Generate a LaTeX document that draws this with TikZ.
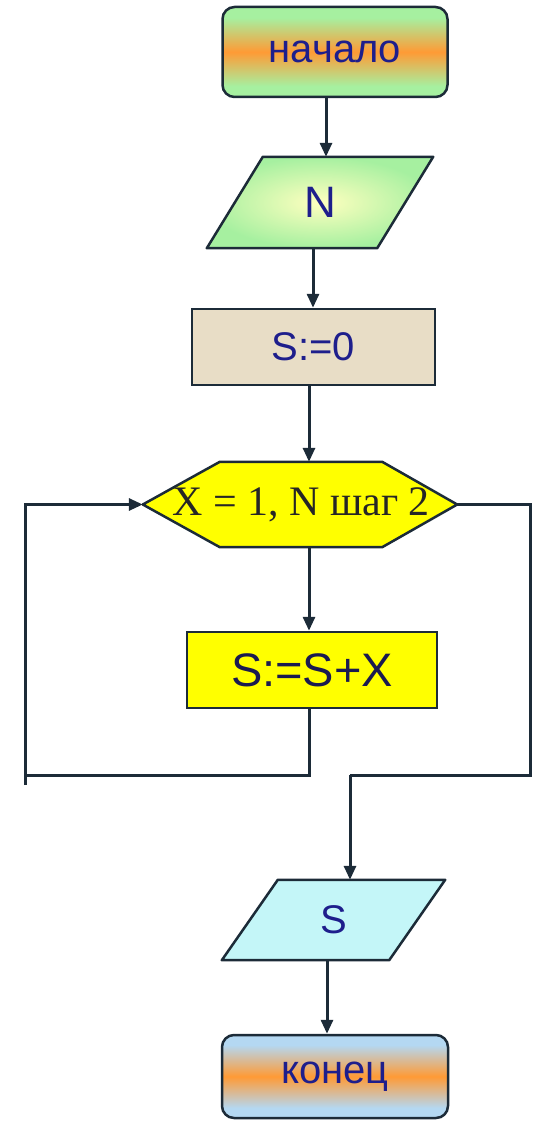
\documentclass[tikz,border=0pt]{standalone}
\usepackage{fontspec}
\setmainfont{Liberation Serif}
\setsansfont{Liberation Sans}
\usetikzlibrary{arrows.meta,calc}
\definecolor{lineC}{HTML}{1C2B38}
\definecolor{txtC}{HTML}{1E1E8C}
\definecolor{lgreen}{HTML}{A6F0A0}
\definecolor{orangeC}{HTML}{FF9A35}
\definecolor{lblue}{HTML}{B4D8F2}
\definecolor{beige}{HTML}{E8DDC6}
\definecolor{cyanC}{HTML}{C4F6F8}
\definecolor{yel}{HTML}{FFFF00}
\definecolor{bodytxt}{HTML}{1A1A50}
\pgfdeclareverticalshading{startshade}{100bp}{color(0bp)=(lgreen); color(31bp)=(lgreen); color(50bp)=(orangeC); color(69bp)=(lgreen); color(100bp)=(lgreen)}
\pgfdeclareverticalshading{endshade}{100bp}{color(0bp)=(lblue); color(31bp)=(lblue); color(50bp)=(orangeC); color(69bp)=(lblue); color(100bp)=(lblue)}
\tikzset{
  sans/.style={font=\sffamily\fontsize{40}{46}\selectfont, text=txtC},
  box/.style={draw=lineC, line width=2.5pt, rectangle, inner sep=0pt},
  txtnode/.style={rectangle, inner sep=0pt},
  outline/.style={draw=lineC, line width=2.5pt, line join=round},
  conn/.style={draw=lineC, line width=3pt},
  arr/.style={conn, -{Triangle[length=14pt,width=12pt]}},
}
\begin{document}
\begin{tikzpicture}[x=1pt,y=-1pt]
\useasboundingbox (0,0) rectangle (538,1123);
% start
\node[box, rounded corners=12pt, sans, minimum width=225pt, minimum height=90pt,
  shading=startshade] (start) at (335,52) {начало};
% N parallelogram
\node[txtnode, minimum width=226pt, minimum height=91pt] (n) at (320,202.5) {};
\shade[inner color=yellow!25, outer color=lgreen, outline]
  ([xshift=56pt]n.north west) -- (n.north east) -- ([xshift=-56pt]n.south east) -- (n.south west) -- cycle;
\node[sans, font=\sffamily\fontsize{44}{50}\selectfont] at (n.center) {N};
% S:=0
\node[box, fill=beige, sans, minimum width=243pt, minimum height=76pt] (s0) at (313.5,347) {S:=0};
% loop hexagon
\node[txtnode, minimum width=314pt, minimum height=85pt] (loop) at (300,504.5) {};
\fill[yel, outline]
  (loop.west) -- ([xshift=77pt]loop.north west) -- ([xshift=-75pt]loop.north east) -- (loop.east)
  -- ([xshift=-75pt]loop.south east) -- ([xshift=77pt]loop.south west) -- cycle;
\node[font=\fontsize{42}{48}\selectfont, text=black!85] at ([xshift=1pt]loop.center) {X = 1, N шаг 2};
% body
\node[box, fill=yel, sans, font=\sffamily\fontsize{47}{54}\selectfont, text=bodytxt, minimum width=250pt, minimum height=76pt] (body) at (312,670) {S:=S+X};
% S parallelogram
\node[txtnode, minimum width=223pt, minimum height=80pt] (out) at (333.5,920) {};
\fill[cyanC, outline]
  ([xshift=56pt]out.north west) -- (out.north east) -- ([xshift=-56pt]out.south east) -- (out.south west) -- cycle;
\node[sans] at (out.center) {S};
% end
\node[box, rounded corners=12pt, sans, minimum width=226pt, minimum height=83pt,
  shading=endshade] (end) at (335,1076.5) {конец};
% helper coordinates
\coordinate (x326) at (326,0);
\coordinate (x313) at (313,0);
\coordinate (x309) at (309,0);
\coordinate (x350) at (350,0);
\coordinate (x327) at (327,0);
\coordinate (lbot) at (25,785);
\coordinate (lcorner) at (25,775);
\coordinate (rtop) at (530,504.5);
\coordinate (rbot) at (530,775);
\coordinate (mid) at (350,775);
% connectors
\draw[arr] (start.south -| x326) -- (n.north -| x326);
\draw[arr] (n.south -| x313) -- (s0.north -| x313);
\draw[arr] (s0.south -| x309) -- (loop.north -| x309);
\draw[arr] (loop.south -| x309) -- (body.north -| x309);
\draw[conn] (body.south -| x309) |- (lcorner);
\draw[arr] (lbot) |- (loop.west);
\draw[conn] (loop.east) -- (rtop) -- (rbot) -- (mid);
\draw[arr] (mid) -- (out.north -| x350);
\draw[arr] (out.south -| x327) -- (end.north -| x327);
\end{tikzpicture}
\end{document}
